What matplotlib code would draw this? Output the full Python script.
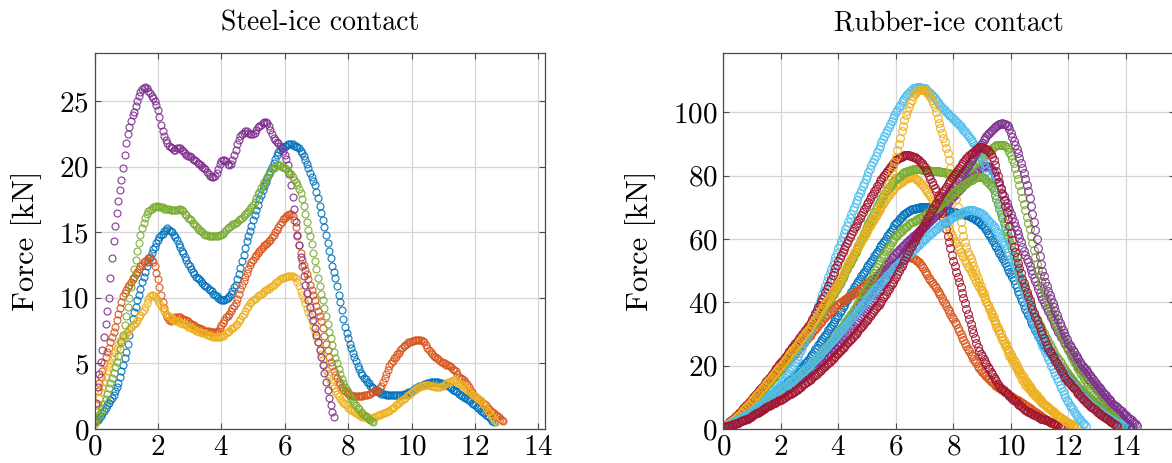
import matplotlib
matplotlib.use("Agg")
import matplotlib.pyplot as plt
import numpy as np

plt.rcParams.update({
    "font.family": "serif",
    "font.serif": ["cmr10"],
    "mathtext.fontset": "cm",
    "axes.formatter.use_mathtext": True,
    "axes.unicode_minus": False,
})

# ---------------- data ----------------
STEEL_STEP = 0.05    # displacement step of steel samples
RUBBER_STEP = 0.05   # displacement step of rubber samples

steel_blue = [
    0.5,0.6,0.7,0.85,1.0,1.2,1.4,1.6,1.8,2.0,
    2.2,2.4,2.6,2.9,3.2,3.5,4.0,4.4,4.9,5.4,
    5.9,6.5,7.2,7.8,8.4,8.9,9.3,9.8,10.2,10.7,
    11.2,11.6,12.0,12.4,12.7,13.1,13.4,13.7,13.9,14.2,
    14.4,14.6,14.8,14.9,15.1,15.2,15.3,15.2,15.1,15.0,
    14.8,14.6,14.4,14.1,13.9,13.6,13.4,13.1,12.9,12.6,
    12.4,12.2,12.0,11.8,11.6,11.5,11.4,11.3,11.1,11.0,
    10.9,10.8,10.7,10.6,10.5,10.3,10.2,10.1,10.0,9.9,
    9.8,9.8,9.8,9.9,10.0,10.1,10.3,10.5,10.8,11.0,
    11.4,11.8,12.3,12.8,13.3,13.8,14.3,14.7,15.1,15.5,
    15.9,16.3,16.7,17.1,17.5,17.8,18.2,18.5,18.8,19.1,
    19.4,19.7,20.0,20.3,20.6,20.9,21.1,21.3,21.4,21.5,
    21.6,21.6,21.7,21.7,21.7,21.7,21.6,21.6,21.5,21.4,
    21.2,21.0,20.8,20.5,20.2,19.9,19.5,19.2,18.9,18.6,
    18.1,17.6,17.0,16.5,15.9,15.4,14.8,14.2,13.6,13.0,
    12.4,12.0,11.5,10.9,10.2,9.7,9.1,8.4,7.8,7.3,
    6.9,6.5,6.2,5.8,5.5,5.2,4.8,4.6,4.3,4.1,
    3.9,3.8,3.6,3.5,3.3,3.2,3.1,3.0,2.9,2.8,
    2.8,2.7,2.7,2.7,2.6,2.6,2.6,2.6,2.6,2.6,
    2.6,2.6,2.6,2.6,2.6,2.7,2.7,2.7,2.8,2.85,
    2.9,3.0,3.1,3.15,3.2,3.25,3.3,3.35,3.4,3.45,
    3.5,3.5,3.55,3.6,3.6,3.6,3.6,3.55,3.5,3.5,
    3.45,3.4,3.35,3.3,3.2,3.1,3.0,2.95,2.9,2.8,
    2.7,2.6,2.55,2.45,2.35,2.3,2.2,2.1,2.0,1.9,
    1.8,1.7,1.6,1.5,1.4,1.3,1.2,1.1,1.0,0.9,
    0.75,0.6,0.5]

steel_orange = [
    0.8,1.8,2.9,3.5,4.0,4.4,5.0,5.5,5.9,6.2,
    6.6,7.0,7.4,7.8,8.3,8.8,9.2,9.7,10.1,10.4,
    10.6,10.8,11.0,11.2,11.4,11.6,11.8,12.0,12.2,12.4,
    12.5,12.7,12.8,12.9,13.0,13.0,12.9,12.7,12.4,11.9,
    11.4,10.8,10.2,9.7,9.2,8.8,8.5,8.3,8.2,8.3,
    8.4,8.5,8.5,8.5,8.5,8.4,8.4,8.3,8.3,8.2,
    8.1,8.0,7.9,7.9,7.8,7.7,7.7,7.6,7.6,7.5,
    7.5,7.5,7.5,7.4,7.4,7.4,7.4,7.4,7.5,7.7,
    7.9,8.1,8.3,8.5,8.6,8.8,9.0,9.2,9.4,9.6,
    9.9,10.3,10.7,11.0,11.3,11.6,11.9,12.2,12.5,12.7,
    12.9,13.1,13.3,13.4,13.6,13.7,13.9,14.0,14.1,14.2,
    14.3,14.4,14.6,14.8,15.0,15.2,15.4,15.6,15.8,16.0,
    16.1,16.2,16.3,16.4,16.4,16.2,15.9,15.4,14.7,14.0,
    13.4,12.9,12.5,12.1,11.8,11.4,11.0,10.6,10.2,9.8,
    9.4,9.0,8.6,8.2,7.7,7.1,6.5,6.0,5.5,5.1,
    4.8,4.4,4.1,3.9,3.6,3.4,3.2,3.0,2.9,2.8,
    2.7,2.6,2.6,2.5,2.5,2.5,2.5,2.5,2.5,2.5,
    2.6,2.6,2.6,2.7,2.7,2.8,2.8,2.9,2.9,3.0,
    3.1,3.3,3.6,3.9,4.2,4.5,4.8,5.0,5.2,5.4,
    5.5,5.7,5.8,6.0,6.2,6.3,6.4,6.5,6.6,6.6,
    6.7,6.7,6.8,6.8,6.8,6.8,6.8,6.7,6.6,6.4,
    6.2,6.0,5.9,5.7,5.6,5.5,5.4,5.3,5.2,5.1,
    5.0,5.0,4.9,4.9,4.8,4.7,4.6,4.5,4.4,4.2,
    4.0,3.9,3.8,3.7,3.6,3.4,3.2,3.0,2.8,2.6,
    2.5,2.4,2.3,2.2,2.1,2.0,1.9,1.8,1.6,1.5,
    1.4,1.3,1.2,1.1,1.0,0.9,0.8,0.7,0.6]

steel_yellow = [
    0.4,1.4,1.9,2.4,2.8,3.2,3.6,4.0,4.4,4.7,
    5.0,5.3,5.6,5.9,6.2,6.5,6.7,6.8,7.0,7.1,
    7.3,7.4,7.6,7.8,7.9,8.0,8.1,8.3,8.5,8.7,
    8.9,9.1,9.3,9.6,9.9,10.1,10.2,10.2,10.1,10.0,
    9.8,9.6,9.4,9.2,9.0,8.8,8.7,8.6,8.5,8.4,
    8.3,8.2,8.2,8.2,8.1,8.1,8.0,8.0,7.9,7.8,
    7.8,7.7,7.6,7.6,7.5,7.5,7.4,7.4,7.3,7.3,
    7.3,7.2,7.2,7.1,7.1,7.0,7.0,7.0,7.0,7.0,
    7.1,7.1,7.2,7.3,7.4,7.5,7.6,7.7,7.8,7.9,
    8.0,8.2,8.4,8.6,8.8,9.0,9.2,9.4,9.6,9.7,
    9.8,9.9,10.0,10.1,10.2,10.3,10.4,10.5,10.6,10.7,
    10.7,10.8,10.9,11.0,11.1,11.2,11.3,11.4,11.5,11.5,
    11.6,11.6,11.7,11.7,11.7,11.7,11.6,11.5,11.2,10.9,
    10.5,10.2,9.9,9.6,9.2,8.9,8.6,8.2,7.8,7.4,
    7.0,6.6,6.1,5.7,5.3,4.9,4.5,4.2,3.9,3.6,
    3.3,3.1,2.9,2.7,2.5,2.3,2.1,2.0,1.9,1.8,
    1.6,1.5,1.45,1.35,1.3,1.2,1.15,1.1,1.0,0.95,
    0.9,0.9,0.85,0.8,0.8,0.85,0.9,0.95,1.0,1.05,
    1.1,1.15,1.2,1.25,1.3,1.35,1.4,1.5,1.6,1.7,
    1.8,1.9,2.0,2.1,2.2,2.3,2.4,2.5,2.6,2.7,
    2.8,2.9,3.0,3.1,3.15,3.2,3.25,3.3,3.35,3.35,
    3.35,3.35,3.3,3.3,3.25,3.2,3.2,3.2,3.2,3.25,
    3.3,3.4,3.5,3.55,3.6,3.65,3.7,3.7,3.7,3.6,
    3.5,3.4,3.35,3.25,3.1,3.0,2.9,2.8,2.7,2.6,
    2.5,2.4,2.3,2.2,2.1,1.9,1.8,1.6,1.4,1.3,
    1.1,0.9,0.7,0.55]

steel_purple = [
    0.6,2.0,3.2,4.2,5.1,6.0,7.0,8.0,9.0,10.0,
    11.5,13.0,14.3,15.5,16.5,17.4,18.2,19.0,19.9,20.9,
    21.8,22.5,23.0,23.5,23.9,24.2,24.6,25.0,25.4,25.7,
    25.9,26.0,26.1,26.0,25.8,25.6,25.4,25.2,25.0,24.7,
    24.3,23.8,23.2,22.7,22.3,22.0,21.8,21.6,21.5,21.4,
    21.3,21.3,21.4,21.4,21.4,21.3,21.2,21.0,20.9,20.8,
    20.8,20.7,20.6,20.5,20.4,20.3,20.2,20.1,20.0,19.9,
    19.8,19.6,19.4,19.3,19.2,19.2,19.3,19.5,19.8,20.2,
    20.4,20.5,20.5,20.4,20.2,20.1,20.2,20.5,20.9,21.3,
    21.7,22.0,22.3,22.5,22.6,22.7,22.7,22.6,22.5,22.5,
    22.5,22.6,22.8,23.0,23.1,23.2,23.3,23.4,23.4,23.3,
    23.1,22.8,22.5,22.2,22.0,21.9,21.8,21.6,21.4,21.2,
    20.9,20.6,20.1,19.4,18.6,17.7,16.8,15.8,14.8,14.0,
    13.1,12.4,11.7,11.0,10.4,9.8,9.3,8.8,8.3,7.7,
    7.2,6.6,6.0,5.5,4.9,4.3,3.6,3.0,2.4,1.8,
    1.3,0.9]

steel_green = [
    0.5,0.7,0.9,1.1,1.3,1.6,1.9,2.3,2.7,3.1,
    3.5,3.9,4.3,4.7,5.1,5.6,6.1,6.6,7.2,7.9,
    8.6,9.3,10.0,10.8,11.5,12.2,12.9,13.6,14.2,14.8,
    15.3,15.7,16.1,16.4,16.6,16.7,16.8,16.9,16.9,17.0,
    17.0,16.9,16.9,16.9,16.8,16.8,16.8,16.8,16.7,16.7,
    16.7,16.7,16.7,16.8,16.8,16.7,16.6,16.4,16.3,16.1,
    16.0,15.9,15.7,15.6,15.5,15.3,15.2,15.1,15.0,14.9,
    14.8,14.8,14.7,14.7,14.7,14.7,14.7,14.7,14.7,14.8,
    14.8,14.9,15.0,15.2,15.3,15.4,15.5,15.6,15.6,15.7,
    15.8,15.9,16.0,16.1,16.2,16.4,16.5,16.6,16.8,16.9,
    17.1,17.3,17.6,17.9,18.1,18.4,18.6,18.8,19.0,19.2,
    19.4,19.6,19.8,19.9,20.0,20.1,20.1,20.1,20.0,20.0,
    19.9,19.8,19.7,19.5,19.4,19.2,19.0,18.8,18.6,18.3,
    18.0,17.5,17.0,16.4,15.8,15.2,14.7,14.1,13.4,12.8,
    12.2,11.5,10.9,10.3,9.8,9.2,8.6,8.0,7.4,6.9,
    6.4,5.9,5.4,5.0,4.6,4.2,3.8,3.5,3.2,3.0,
    2.8,2.5,2.3,2.1,2.0,1.8,1.6,1.5,1.3,1.2,
    1.1,1.0,0.9,0.8,0.7,0.6,0.5]

rub_blue_1 = [
    0.5,0.75,1.0,1.25,1.5,1.75,2.0,2.25,2.5,2.75,
    3.0,3.3,3.6,3.9,4.2,4.5,4.8,5.1,5.4,5.7,
    6.0,6.35,6.7,7.05,7.4,7.75,8.1,8.45,8.8,9.15,
    9.5,9.85,10.2,10.55,10.9,11.25,11.6,11.95,12.3,12.65,
    13,13.4,13.8,14.2,14.6,15,15.4,15.8,16.2,16.6,
    17,17.5,18,18.5,19.1,19.6,20.2,20.7,21.3,21.9,
    22.5,23.1,23.8,24.4,25.1,25.7,26.4,27,27.7,28.3,
    29,29.7,30.4,31.1,31.8,32.5,33.2,33.9,34.6,35.3,
    36,36.8,37.6,38.4,39.2,40,40.8,41.6,42.4,43.2,
    44,44.7,45.4,46.1,46.8,47.5,48.2,48.9,49.6,50.3,
    51,51.7,52.4,53.1,53.8,54.5,55.2,55.9,56.6,57.3,
    58,58.7,59.4,60.1,60.8,61.5,62.2,62.9,63.6,64.3,
    65,65.5,66,66.5,67,67.5,68,68.3,68.5,68.8,
    69,69.3,69.5,69.6,69.7,69.8,69.9,70,70,70,
    70,70,70,70,70,69.9,69.8,69.7,69.6,69.5,
    69.4,69.3,69.2,69.1,69,68.9,68.9,68.8,68.7,68.6,
    68.5,68.4,68.3,68.2,68.1,68,67.9,67.8,67.7,67.6,
    67.5,67.3,67,66.8,66.5,66.3,66,65.6,65.2,64.8,
    64.4,64,63.5,62.8,62,61.3,60.5,59.8,59,58.2,
    57.3,56.5,55.7,54.9,54,53.2,52.3,51.4,50.5,49.7,
    48.8,47.9,47,45.9,44.8,43.7,42.5,41.4,40.3,39.2,
    38,37,36.1,35.2,34.2,33.3,32.3,31.4,30.4,29.5,
    28.5,27.9,27.2,26.6,25.9,25.3,24.6,24,23.4,22.8,
    22.1,21.5,20.8,20.2,19.5,19,18.5,18,17.5,17,
    16.5,16,15.5,15,14.5,14,13.5,13,12.5,12,
    11.5,11.1,10.7,10.3,9.9,9.5,9.1,8.7,8.3,7.9,
    7.5,7.1,6.7,6.3,5.8,5.4,5.0,4.75,4.5,4.25,
    4.0,3.75,3.5,3.25,3.0,2.75,2.5,2.25,2.0,1.75,
    1.5,1.3,1.1,0.9,0.7]

rub_orange_1 = [
    0.5,0.9,1.3,1.7,2.1,2.5,2.9,3.3,3.7,4.1,
    4.5,5.0,5.4,5.9,6.3,6.8,7.2,7.7,8.1,8.6,
    9,9.5,10,10.5,11,11.5,12,12.5,13,13.5,
    14,14.5,15,15.5,16,16.5,17,17.5,18,18.5,
    19,19.5,20,20.5,21,21.5,22,22.5,23,23.5,
    24,24.6,25.1,25.7,26.2,26.8,27.3,27.9,28.4,29,
    29.5,30.1,30.6,31.2,31.7,32.3,32.8,33.4,33.9,34.5,
    35,35.5,35.9,36.4,36.8,37.3,37.7,38.2,38.6,39.1,
    39.5,39.8,40.1,40.4,40.7,41,41.3,41.6,41.9,42.2,
    42.5,42.9,43.2,43.6,43.9,44.3,44.6,45,45.3,45.7,
    46,46.4,46.7,47.1,47.4,47.8,48.1,48.5,48.8,49.2,
    49.5,49.8,50.1,50.4,50.7,51,51.3,51.6,51.9,52.2,
    52.5,52.8,53,53.3,53.5,53.8,54,54.1,54.2,54.2,
    54.2,54.1,54,53.7,53.4,53,52.6,52.1,51.5,50.8,
    50,49.3,48.5,47.8,47,46.4,45.7,45.1,44.4,43.7,
    43,42.2,41.3,40.5,39.7,38.9,38,37.2,36.3,35.5,
    34.7,33.9,33,32,31,30,29,28,27,26.2,
    25.3,24.5,23.7,22.9,22,21.4,20.7,20,19.3,18.7,
    18,17.6,17.1,16.7,16.2,15.8,15.3,14.9,14.4,14,
    13.5,13.2,12.9,12.6,12.3,12,11.7,11.4,11.1,10.8,
    10.5,10.2,9.9,9.6,9.3,9,8.7,8.4,8.1,7.8,
    7.5,7.2,6.9,6.6,6.3,6,5.7,5.4,5.1,4.8,
    4.5,4.2,3.8,3.5,3.2,2.9,2.5,2.3,2.0,1.8,
    1.5,1.3,1.0]

rub_yellow_1 = [
    0.5,0.85,1.2,1.55,1.9,2.25,2.6,2.95,3.3,3.65,
    4,4.5,5,5.5,6,6.5,7,7.5,8,8.5,
    9,9.55,10.1,10.65,11.2,11.75,12.3,12.85,13.4,13.95,
    14.5,15.05,15.6,16.15,16.7,17.25,17.8,18.35,18.9,19.45,
    20,20.6,21.2,21.8,22.4,23,23.6,24.2,24.8,25.4,
    26,26.6,27.2,27.8,28.4,29,29.6,30.2,30.8,31.4,
    32,32.7,33.4,34.1,34.8,35.5,36.2,36.9,37.6,38.3,
    39,39.7,40.4,41.1,41.8,42.5,43.2,43.9,44.6,45.3,
    46,46.9,47.8,48.7,49.6,50.5,51.4,52.3,53.2,54.1,
    55,55.8,56.6,57.4,58.2,59,59.8,60.6,61.4,62.2,
    63,63.8,64.6,65.4,66.2,67,67.8,68.6,69.4,70.2,
    71,72.2,73.5,74.8,76.2,77.8,79.5,81.1,82.8,84.4,
    86,88,90,92,94,95.8,97.5,99,100.5,101.8,
    103,104,105,105.7,106.3,106.7,107,107.1,107.2,107.1,
    107,106.6,106.2,105.5,104.8,103.9,103,101.5,100,98.3,
    96.5,95,93.5,92,90.5,88.8,87,84.8,82.5,80,
    77.5,75,72.5,70,67.5,65.2,63,61,59,57.5,
    56,55,54,52.8,51.5,50.2,49,47.8,46.5,45.2,
    44,42.8,41.5,40.2,39,37.8,36.5,35.5,34.4,33.4,
    32.3,31.3,30.2,29.2,28.2,27.2,26.1,25.1,24,23.2,
    22.3,21.5,20.6,19.8,19,18.2,17.3,16.5,15.6,14.8,
    14,13.5,13,12.5,12,11.5,11,10.5,10,9.5,
    9,8.6,8.3,7.9,7.5,7.2,6.8,6.4,6,5.7,
    5.3,4.9,4.5,4.2,3.8,3.4,3,2.8,2.5,2.3,
    2,1.8,1.5,1.3,1.0]

rub_yellow_2 = [
    0.5,0.8,1.1,1.45,1.8,2.15,2.5,2.85,3.2,3.55,
    3.9,4.35,4.8,5.3,5.8,6.3,6.8,7.3,7.8,8.3,
    8.8,9.3,9.8,10.35,10.9,11.45,12,12.55,13.1,13.65,
    14.2,14.75,15.3,15.85,16.4,16.95,17.5,18.05,18.6,19.15,
    19.7,20.25,20.8,21.35,21.9,22.45,23,23.6,24.2,24.8,
    25.4,26,26.6,27.2,27.8,28.4,29,29.6,30.2,30.8,
    31.4,32.1,32.8,33.5,34.2,34.9,35.6,36.3,37,37.7,
    38.4,39.1,39.8,40.5,41.2,41.9,42.6,43.3,44,44.7,
    45.5,46.3,47.2,48.1,49,49.9,50.8,51.7,52.6,53.5,
    54.4,55.2,56,56.8,57.6,58.4,59.2,60,60.8,61.6,
    62.4,63.2,64,64.8,65.6,66.4,67.2,68,68.8,69.5,
    70.3,71,71.8,72.5,73.2,73.9,74.5,75.1,75.6,76.1,
    76.6,77,77.4,77.8,78.1,78.4,78.7,78.9,79.1,79.3,
    79.4,79.4,79.4,79.2,79,78.7,78.3,77.8,77.3,76.7,
    76.1,75.5,74.8,74.1,73.4,72.7,72,71.3,70.5,69.8,
    69,68.2,67.4,66.6,65.7,64.9,64,63.1,62.2,61.3,
    60.4,59.5,58.6,57.7,56.8,55.9,55,54.2,53.3,52.5,
    51.6,50.8,49.9,49.1,48.2,47.4,46.5,45.6,44.7,43.8,
    42.9,42,41,40,39.1,38.2,37.2,36.2,35.2,34.2,
    33.2,32.2,31.2,30.2,29.2,28.2,27.3,26.4,25.4,24.5,
    23.6,22.8,21.9,21,20.2,19.4,18.6,17.8,17.1,16.3,
    15.6,14.9,14.2,13.5,12.9,12.3,11.7,11.1,10.6,10,
    9.5,9,8.5,8,7.6,7.1,6.7,6.3,5.9,5.5,
    5.1,4.7,4.4,4,3.7,3.4,3.1,2.8,2.5,2.2,
    2.0,1.7,1.5,1.2,1.0,0.8,0.6]

rub_purple_1 = [
    0.3,0.45,0.6,0.8,1.0,1.15,1.3,1.5,1.7,1.85,
    2.0,2.25,2.5,2.75,3.0,3.25,3.5,3.75,4.0,4.25,
    4.5,4.8,5.1,5.4,5.7,6,6.3,6.6,6.9,7.2,
    7.5,7.85,8.2,8.55,8.9,9.25,9.6,9.95,10.3,10.65,
    11,11.35,11.7,12.05,12.4,12.75,13.1,13.45,13.8,14.15,
    14.5,14.85,15.2,15.55,15.9,16.25,16.6,16.95,17.3,17.65,
    18,18.4,18.8,19.2,19.6,20,20.4,20.8,21.2,21.6,
    22,22.45,22.9,23.35,23.8,24.25,24.7,25.15,25.6,26.05,
    26.5,27.05,27.6,28.15,28.7,29.25,29.8,30.35,30.9,31.45,
    32,32.6,33.2,33.8,34.4,35,35.6,36.2,36.8,37.4,
    38,38.7,39.4,40.1,40.8,41.5,42.2,42.9,43.6,44.3,
    45,45.7,46.4,47.1,47.8,48.5,49.2,49.9,50.6,51.3,
    52,52.65,53.3,53.95,54.6,55.25,55.9,56.55,57.2,57.85,
    58.5,59.1,59.7,60.3,60.9,61.5,62.1,62.7,63.3,63.9,
    64.5,65.1,65.7,66.3,66.9,67.5,68.1,68.7,69.3,69.9,
    70.5,71.1,71.7,72.3,72.9,73.5,74.1,74.7,75.3,75.9,
    76.5,77.15,77.8,78.45,79.1,79.75,80.4,81.05,81.7,82.35,
    83,83.75,84.5,85.25,86,86.75,87.5,88.25,89,89.7,
    90.4,91.1,91.8,92.4,93,93.5,94,94.5,95,95.4,
    95.8,96.1,96.3,96.4,96.5,96.4,96.3,96,95.5,94.6,
    93.5,92.3,91,89.8,88.5,87,85.5,84,82.5,80.8,
    79,77,75,72.8,70.5,68,65.5,62.8,60,57.2,
    54.5,52.2,50,48.2,46.5,45,43.5,42.2,41,39.7,
    38.4,37.2,36,34.8,33.6,32.5,31.4,30.3,29.3,28.3,
    27.3,26.5,25.8,25,24.3,23.5,22.8,22,21.3,20.6,
    20,19.4,18.8,18.2,17.6,17,16.4,15.8,15.2,14.6,
    14,13.4,12.9,12.3,11.8,11.2,10.6,10,9.5,9,
    8.5,8,7.6,7.2,6.8,6.4,6,5.6,5.2,4.8,
    4.4,3.9,3.5,3.1,2.7,2.3,1.9,1.5,1.1]

rub_purple_2 = [
    0.3,0.45,0.6,0.8,1.0,1.15,1.3,1.5,1.7,1.85,
    2.0,2.25,2.5,2.75,3.0,3.25,3.5,3.75,4.0,4.25,
    4.5,4.8,5.1,5.4,5.7,6,6.3,6.6,6.9,7.2,
    7.5,7.85,8.2,8.55,8.9,9.25,9.6,9.95,10.3,10.65,
    11,11.4,11.8,12.2,12.6,13,13.4,13.8,14.2,14.6,
    15,15.45,15.9,16.35,16.8,17.25,17.7,18.15,18.6,19.05,
    19.5,19.95,20.4,20.85,21.3,21.75,22.2,22.65,23.1,23.55,
    24,24.55,25.1,25.65,26.2,26.75,27.3,27.85,28.4,28.95,
    29.5,30.15,30.8,31.45,32.1,32.75,33.4,34.05,34.7,35.35,
    36,36.7,37.4,38.1,38.8,39.5,40.2,40.9,41.6,42.3,
    43,43.7,44.4,45.1,45.8,46.5,47.2,47.9,48.6,49.3,
    50,50.55,51.1,51.65,52.2,52.75,53.3,53.85,54.4,54.95,
    55.5,55.95,56.4,56.85,57.3,57.75,58.2,58.65,59.1,59.55,
    60,60.4,60.8,61.2,61.6,62,62.4,62.8,63.2,63.6,
    64,64.45,64.9,65.35,65.8,66.25,66.7,67.15,67.6,68.05,
    68.5,69,69.5,70,70.5,71,71.5,72,72.5,73,
    73.5,74,74.5,75,75.5,76,76.5,77,77.5,78,
    78.5,78.95,79.4,79.85,80.3,80.75,81.2,81.6,82,82.3,
    82.6,82.8,83,83,82.9,82.7,82.5,81.8,81,80,
    79,78,77,75.8,74.5,73.4,72.3,71.2,70.2,69.1,
    68,66.7,65.4,64.1,62.8,61.5,60.2,58.9,57.6,56.3,
    55,53.8,52.6,51.4,50.2,49,47.8,46.6,45.4,44.2,
    43,42,41.1,40.1,39.2,38.2,37.3,36.3,35.4,34.4,
    33.4,32.5,31.5,30.7,29.9,29.1,28.4,27.6,26.8,26,
    25.2,24.4,23.6,22.9,22.1,21.3,20.5,19.9,19.3,18.7,
    18.2,17.6,17,16.5,15.9,15.3,14.7,14.2,13.6,13,
    12.4,11.9,11.3,10.8,10.2,9.7,9.2,8.6,8.1,7.6,
    7.1,6.5,6,5.5,5,4.5,4,3.5,3,2.5,
    2,1.5,1]

rub_green_1 = [
    0.5,0.85,1.2,1.55,1.9,2.25,2.6,2.95,3.3,3.65,
    4,4.45,4.9,5.35,5.8,6.25,6.7,7.15,7.6,8.05,
    8.5,9,9.5,10,10.5,11,11.5,12,12.5,13,
    13.5,14.05,14.6,15.15,15.7,16.25,16.8,17.35,17.9,18.45,
    19,19.6,20.2,20.8,21.4,22,22.6,23.2,23.8,24.4,
    25,25.6,26.2,26.8,27.4,28,28.6,29.2,29.8,30.4,
    31,31.7,32.4,33.1,33.8,34.5,35.2,35.9,36.6,37.3,
    38,38.7,39.4,40.1,40.8,41.5,42.2,42.9,43.6,44.3,
    45,45.9,46.8,47.7,48.6,49.5,50.4,51.3,52.2,53.1,
    54,55,56,57,58,59,60,61,62,63,
    64,64.9,65.8,66.7,67.6,68.5,69.4,70.3,71.2,72.1,
    73,73.7,74.3,75,75.6,76.2,76.8,77.4,78,78.5,
    79,79.4,79.7,80,80.4,80.7,81,81.2,81.4,81.6,
    81.7,81.9,82,82,82,82,82,82,81.9,81.9,
    81.8,81.8,81.7,81.7,81.6,81.6,81.5,81.5,81.4,81.4,
    81.3,81.2,81.1,81.1,81,80.9,80.8,80.7,80.6,80.6,
    80.5,80.5,80.6,80.7,80.8,80.9,81,81.2,81.5,81.7,
    82,82.2,82.5,82.9,83.3,83.7,84.2,84.6,85,85.4,
    85.8,86.3,86.7,87.1,87.5,87.9,88.2,88.6,88.9,89.2,
    89.5,89.6,89.7,89.8,89.8,89.6,89.3,88.9,88.5,87.6,
    86.5,85.3,84,82.3,80.5,78.8,77,75,73,71,
    69,67,65,63,61,58.8,56.5,54.2,52,50.2,
    48.5,46.8,45,43.6,42.2,40.8,39.5,38.3,37.2,36.1,
    35,33.8,32.7,31.6,30.5,29.6,28.7,27.7,26.8,25.9,
    25,24.1,23.2,22.2,21.3,20.4,19.5,18.8,18.1,17.4,
    16.7,15.9,15.2,14.5,13.8,13.1,12.4,11.7,11,10.4,
    9.9,9.3,8.8,8.2,7.7,7.2,6.7,6.1,5.6,5,
    4.5,4,3.6,3.1,2.7,2.3,1.9,1.4,1.0]

rub_green_2 = [
    0.3,0.5,0.7,0.95,1.2,1.4,1.6,1.85,2.1,2.3,
    2.5,2.8,3.1,3.4,3.7,4,4.3,4.6,4.9,5.2,
    5.5,5.8,6.1,6.4,6.7,7,7.3,7.6,7.9,8.2,
    8.5,8.85,9.2,9.55,9.9,10.25,10.6,10.95,11.3,11.65,
    12,12.4,12.8,13.2,13.6,14,14.4,14.8,15.2,15.6,
    16,16.4,16.8,17.2,17.6,18,18.4,18.8,19.2,19.6,
    20,20.5,21,21.5,22,22.5,23,23.5,24,24.5,
    25,25.55,26.1,26.65,27.2,27.75,28.3,28.85,29.4,29.95,
    30.5,31.15,31.8,32.45,33.1,33.75,34.4,35.05,35.7,36.35,
    37,37.75,38.5,39.25,40,40.75,41.5,42.25,43,43.75,
    44.5,45.45,46.4,47.35,48.3,49.25,50.2,51.15,52.1,53.05,
    54,54.7,55.4,56.1,56.8,57.5,58.2,58.9,59.6,60.3,
    61,61.4,61.8,62.2,62.6,63,63.4,63.8,64.2,64.6,
    65,65.25,65.5,65.75,66,66.25,66.5,66.75,67,67.25,
    67.5,67.8,68.1,68.4,68.7,69,69.3,69.6,69.9,70.2,
    70.5,70.9,71.3,71.7,72.1,72.5,72.9,73.3,73.7,74.1,
    74.5,74.85,75.2,75.55,75.9,76.25,76.6,76.95,77.3,77.65,
    78,78.25,78.5,78.75,79,79.2,79.4,79.5,79.6,79.5,
    79.4,79.1,78.8,78.4,78,77.5,77,76.3,75.5,74,
    72.5,71,69.5,68,66.5,65,63.5,62.1,60.7,59.3,
    58,56.4,54.8,53.2,51.7,50.1,48.5,47.3,46.1,44.9,
    43.7,42.5,41.3,40.1,38.9,37.7,36.5,35.6,34.7,33.8,
    32.9,32,31.1,30.2,29.4,28.5,27.6,26.7,25.8,24.9,
    24,23.3,22.7,22,21.4,20.7,20,19.3,18.7,18,
    17.4,16.7,16.1,15.4,14.8,14.1,13.5,13,12.6,12.1,
    11.6,11.1,10.7,10.2,9.8,9.3,8.8,8.3,7.9,7.4,
    7,6.5,6,5.6,5.3,4.9,4.6,4.2,3.9,3.5,
    3.2,2.9,2.6,2.2,1.9,1.6,1.3]

rub_lightblue_1 = [
    0.5,0.7,0.9,1.1,1.3,1.5,1.7,1.9,2.1,2.3,
    2.5,2.8,3.1,3.4,3.7,4,4.3,4.6,4.9,5.2,
    5.5,5.9,6.3,6.7,7.1,7.5,7.9,8.3,8.7,9.1,
    9.5,9.95,10.4,10.85,11.3,11.75,12.2,12.65,13.1,13.55,
    14,14.7,15.4,16.1,16.8,17.5,18.2,18.9,19.6,20.3,
    21,22,23,24,25,26,27,28,29,30,
    31,32.3,33.6,34.9,36.2,37.5,38.8,40.1,41.4,42.7,
    44,45.3,46.6,47.9,49.2,50.5,51.8,53.1,54.4,55.7,
    57,58.2,59.4,60.6,61.8,63,64.2,65.4,66.6,67.8,
    69,70.1,71.2,72.3,73.4,74.5,75.6,76.7,77.8,78.9,
    80,81,82.1,83.2,84.2,85.2,86.3,87.4,88.4,89.4,
    90.5,91.5,92.4,93.4,94.3,95.2,96.2,97.2,98.1,99,
    100,100.8,101.6,102.4,103.1,103.8,104.5,105.1,105.6,106.1,
    106.6,107.1,107.5,107.7,107.8,107.9,108,107.9,107.8,107.7,
    107.5,107.2,106.8,106.4,106,105.5,105,104.4,103.8,103.2,
    102.6,102,101.5,101,100.6,100.1,99.7,99.2,98.8,98.4,
    98,97.5,97,96.5,96,95.5,95,94.5,94,93.4,
    92.8,92.2,91.5,90.9,90.3,89.7,89,88,87,86,
    85,83.9,82.7,81.5,80.3,79.2,78,76.7,75.3,74,
    72.7,71.4,70,68.5,67,65.5,64,62.5,61,59.5,
    58,56.4,54.7,53,51.3,49.7,48,46.5,45,43.5,
    42,40.5,39,37.5,36,34.5,33,31.9,30.8,29.7,
    28.6,27.4,26.3,25.2,24.2,23.1,22.1,21,20,19,
    18,17,16,15,14,13,12,11,10,9.2,
    8.5,7.7,7,6.2,5.5,4.7,4,3.5,3,2.5,
    2,1.5,1]

rub_lightblue_2 = [
    0.5,0.75,1.0,1.25,1.5,1.75,2.0,2.25,2.5,2.75,
    3.0,3.25,3.5,3.75,4.0,4.25,4.5,4.75,5.0,5.25,
    5.5,5.85,6.2,6.55,6.9,7.25,7.6,7.95,8.3,8.65,
    9,9.35,9.7,10.05,10.4,10.75,11.1,11.45,11.8,12.15,
    12.5,12.85,13.2,13.55,13.9,14.25,14.6,14.95,15.3,15.65,
    16,16.4,16.8,17.2,17.6,18,18.4,18.8,19.2,19.6,
    20,20.5,21,21.5,22,22.5,23,23.5,24,24.5,
    25,25.5,26,26.5,27,27.5,28,28.5,29,29.5,
    30,30.55,31.1,31.65,32.2,32.75,33.3,33.85,34.4,34.95,
    35.5,36.05,36.6,37.15,37.7,38.25,38.8,39.35,39.9,40.45,
    41,41.55,42.1,42.65,43.2,43.75,44.3,44.85,45.4,45.95,
    46.5,47,47.5,48,48.5,49,49.5,50,50.5,51,
    51.5,51.9,52.3,52.7,53.1,53.5,53.9,54.3,54.7,55.1,
    55.5,55.95,56.4,56.85,57.3,57.75,58.2,58.65,59.1,59.55,
    60,60.4,60.8,61.2,61.6,62,62.4,62.8,63.2,63.6,
    64,64.3,64.6,64.9,65.2,65.5,65.8,66.1,66.4,66.7,
    67,67.25,67.5,67.75,68,68.25,68.5,68.65,68.8,68.95,
    69.1,69.15,69.2,69.15,69.1,68.95,68.8,68.65,68.5,68.25,
    68,67.5,67,66.5,66,65.5,65,64.5,64,63.3,
    62.5,61.8,61,60.3,59.5,58.8,58,57,56,55,
    54,53,52,51,50,48.8,47.5,46.3,45,43.8,
    42.5,41.3,40,38.9,37.8,36.7,35.5,34.4,33.3,32.2,
    31,30.2,29.3,28.5,27.6,26.8,25.9,25.1,24.2,23.4,
    22.5,21.8,21.1,20.4,19.7,19,18.3,17.6,16.9,16.2,
    15.5,15,14.4,13.9,13.3,12.8,12.2,11.7,11.1,10.6,
    10,9.6,9.2,8.8,8.4,8,7.6,7.2,6.8,6.4,
    6,5.7,5.4,5.1,4.8,4.5,4.2,3.9,3.6,3.3,
    3,2.75,2.5,2.25,2,1.75,1.5,1.25,1.0]

rub_darkred_1 = [
    0.5,0.9,1.3,1.7,2.1,2.5,2.9,3.3,3.7,4.1,
    4.5,5,5.5,6,6.5,7,7.5,8,8.5,9,
    9.5,10.05,10.6,11.15,11.7,12.25,12.8,13.35,13.9,14.45,
    15,15.6,16.2,16.8,17.4,18,18.6,19.2,19.8,20.4,
    21,21.6,22.2,22.8,23.4,24,24.6,25.2,25.8,26.4,
    27,27.6,28.2,28.8,29.4,30,30.6,31.2,31.8,32.4,
    33,33.9,34.8,35.7,36.6,37.5,38.4,39.3,40.2,41.1,
    42,43.1,44.2,45.3,46.4,47.5,48.6,49.7,50.8,51.9,
    53,53.95,54.9,55.85,56.8,57.75,58.7,59.65,60.6,61.55,
    62.5,63.35,64.2,65.05,65.9,66.75,67.6,68.45,69.3,70.15,
    71,71.8,72.6,73.4,74.2,75,75.8,76.6,77.4,78.2,
    79,79.7,80.3,80.9,81.5,82.2,82.8,83.4,84,84.4,
    84.8,85.2,85.5,85.8,86,86.3,86.5,86.5,86.5,86.4,
    86.3,86.2,86,85.8,85.5,85.2,84.8,84.4,84,83.3,
    82.6,81.8,81,80,79,78,77,76,75,73.4,
    71.7,70,68.3,66.7,65,63,61,59,57,55,
    53,51.4,49.7,48,46.3,44.7,43,41.4,39.7,38,
    36.3,34.7,33,31.6,30.2,28.8,27.3,25.9,24.5,23.7,
    22.9,22,21.2,20.4,19.6,18.8,18,17.3,16.5,15.8,
    15,14.3,13.5,13,12.6,12.2,11.8,11.3,10.9,10.5,
    10,9.6,9.2,8.8,8.4,8,7.6,7.2,6.8,6.4,
    6,5.8,5.5,5.3,5,4.8,4.5,4.3,4,3.8,
    3.5,3.3,3.2,3,2.8,2.7,2.5,2.3,2.1,2,
    1.8,1.7,1.5,1.3,1.1,0.95,0.8]

rub_darkred_2 = [
    0.5,0.65,0.8,0.95,1.1,1.25,1.4,1.55,1.7,1.85,
    2.0,2.2,2.4,2.55,2.7,2.85,3.0,3.2,3.4,3.7,
    4.0,4.3,4.6,4.9,5.2,5.5,5.8,6.1,6.4,6.7,
    7.0,7.2,7.4,7.65,7.9,8.1,8.3,8.55,8.8,9,
    9.2,9.5,9.8,10.05,10.3,10.6,10.9,11.15,11.4,11.7,
    12,12.35,12.7,13.05,13.4,13.75,14.1,14.45,14.8,15.15,
    15.5,15.9,16.3,16.7,17.1,17.5,17.9,18.3,18.7,19.1,
    19.5,19.95,20.4,20.85,21.3,21.75,22.2,22.65,23.1,23.55,
    24,24.5,25,25.5,26,26.5,27,27.5,28,28.5,
    29,29.55,30.1,30.65,31.2,31.75,32.3,32.85,33.4,33.95,
    34.5,35.1,35.7,36.3,36.9,37.5,38.1,38.7,39.3,39.9,
    40.5,41.25,42,42.75,43.5,44.25,45,45.75,46.5,47.25,
    48,48.9,49.8,50.7,51.6,52.5,53.4,54.3,55.2,56.1,
    57,57.8,58.6,59.4,60.2,61,61.8,62.6,63.4,64.2,
    65,65.8,66.6,67.4,68.2,69,69.8,70.6,71.4,72.2,
    73,73.7,74.4,75.1,75.8,76.5,77.2,77.9,78.6,79.3,
    80,80.6,81.2,81.8,82.4,83,83.6,84.2,84.8,85.4,
    86,86.4,86.8,87.2,87.5,87.9,88.3,88.7,89,89,
    88.9,88.7,88.5,88.3,88,87.4,86.7,85.9,85,83.3,
    81.5,79.8,78,76.2,74.3,72.4,70.5,68.4,66.2,64,
    61.8,59.7,57.5,55.9,54.2,52.5,50.8,49.2,47.5,46.2,
    44.8,43.4,42,40.7,39.3,37.9,36.5,35.4,34.3,33.2,
    32.1,31,29.9,28.8,27.7,26.6,25.5,24.7,23.9,23.1,
    22.3,21.5,20.7,20,19.2,18.4,17.6,16.8,16,15.5,
    14.9,14.4,13.9,13.4,12.8,12.3,11.7,11.2,10.6,10.1,
    9.6,9.1,8.5,8.2,7.8,7.4,7,6.7,6.3,5.9,
    5.5,5.2,4.8,4.4,4,3.7,3.4,3.1,2.8,2.5,
    2.2,1.9,1.6,1.3,1.0]

C_BLUE = "#0072BD"
C_ORANGE = "#D95319"
C_YELLOW = "#EDB120"
C_PURPLE = "#7E2F8E"
C_GREEN = "#77AC30"
C_LBLUE = "#4DBEEE"
C_DRED = "#A2142F"

steel_series = [
    (steel_blue, C_BLUE), (steel_orange, C_ORANGE), (steel_yellow, C_YELLOW),
    (steel_purple, C_PURPLE), (steel_green, C_GREEN),
]
rubber_series = [
    (rub_blue_1, C_BLUE), (rub_orange_1, C_ORANGE), (rub_yellow_2, C_YELLOW),
    (rub_purple_2, C_PURPLE), (rub_green_1, C_GREEN), (rub_lightblue_1, C_LBLUE),
    (rub_darkred_1, C_DRED), (rub_yellow_1, C_YELLOW), (rub_purple_1, C_PURPLE),
    (rub_green_2, C_GREEN), (rub_lightblue_2, C_LBLUE), (rub_darkred_2, C_DRED),
]

# ---------------- figure ----------------
W, H = 1172, 463
fig = plt.figure(figsize=(W / 100, H / 100), dpi=100)
ax1 = fig.add_axes([94.5 / W, 34 / H, (545 - 94.5) / W, 376 / H])
ax2 = fig.add_axes([723.3 / W, 34 / H, (1175 - 723.3) / W, 376 / H])


def draw(ax, series, step, ms, mew):
    for ys, c in series:
        ys = np.asarray(ys, dtype=float)
        xs = np.arange(len(ys)) * step
        ax.plot(xs, ys, linestyle="none", marker="o", markersize=ms,
                markerfacecolor="none", markeredgecolor=c, markeredgewidth=mew,
                alpha=0.9)


def style(ax, title, xlim, ylim, yticks):
    ax.set_xlim(*xlim)
    ax.set_ylim(*ylim)
    ax.set_xticks(np.arange(0, 15, 2))
    ax.set_yticks(yticks)
    ax.grid(True, color="#d6d6d6", linewidth=0.9)
    ax.set_axisbelow(True)
    for s in ax.spines.values():
        s.set_color("#4a4a4a")
        s.set_linewidth(0.9)
    ax.tick_params(direction="in", length=4, width=0.8, color="#4a4a4a",
                   top=True, right=True, labelsize=21, pad=4)
    ax.set_title(title, fontsize=20, pad=16)
    ax.set_ylabel("Force [kN]", fontsize=22, labelpad=12)


draw(ax1, steel_series, STEEL_STEP, 5.0, 0.85)
draw(ax2, rubber_series, RUBBER_STEP, 5.6, 0.85)
style(ax1, "Steel-ice contact", (0, 14.21), (0, 28.66), np.arange(0, 26, 5))
style(ax2, "Rubber-ice contact", (0, 15.71), (0, 118.7), np.arange(0, 101, 20))

fig.savefig("out.png", dpi=100)
